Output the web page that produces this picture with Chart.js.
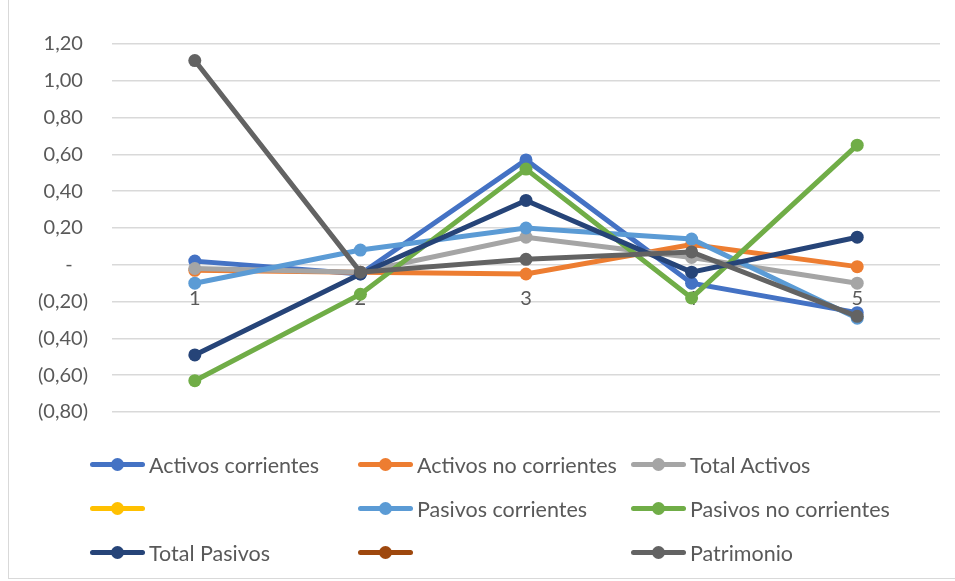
<!DOCTYPE html>
<html>
<head>
<meta charset="utf-8">
<script src="https://cdn.jsdelivr.net/npm/chart.js@4/dist/chart.umd.min.js"></script>
<style>
    html, body { margin: 0; padding: 0; background: #fff; }
    #wrap { position: relative; width: 955px; height: 581px; overflow: hidden; }
    #frame { position: absolute; left: 8px; top: -2px; width: 960px; height: 581px; border: 1px solid #d9d9d9; box-sizing: border-box; }
    canvas { position: absolute; left: 0; top: 0; }
    #legend { position: absolute; left: 0; top: 0; width: 955px; height: 581px; font-family: Lato, sans-serif; font-size: 21.5px; color: #595959; }
    .item { position: absolute; height: 24px; display: flex; align-items: center; white-space: nowrap; }
    .mark { position: relative; width: 55px; height: 24px; margin-right: 4px; }
    .mark .ln { position: absolute; left: 0; right: 0; top: 9px; height: 5px; border-radius: 3px; }
    .mark .dt { position: absolute; left: 21px; top: 5px; width: 13px; height: 13px; border-radius: 50%; }
</style>
</head>
<body>
<div id="wrap">
    <div id="frame"></div>
    <canvas id="ratioChart" width="955" height="581"></canvas>
    <div id="legend"></div>
</div>
<script>
const periods = ['1', '2', '3', '4', '5'];

const seriesNames = [
    'Activos corrientes', 'Activos no corrientes', 'Total Activos',
    '', 'Pasivos corrientes', 'Pasivos no corrientes',
    'Total Pasivos', '', 'Patrimonio'
];

const activosCorrientes = [0.02, -0.05, 0.57, -0.10, -0.26];
const activosNoCorrientes = [-0.03, -0.04, -0.05, 0.11, -0.01];
const totalActivos = [-0.02, -0.04, 0.15, 0.04, -0.10];
const sinNombre1 = [null, null, null, null, null];
const pasivosCorrientes = [-0.10, 0.08, 0.20, 0.14, -0.29];
const pasivosNoCorrientes = [-0.63, -0.16, 0.52, -0.18, 0.65];
const totalPasivos = [-0.49, -0.05, 0.35, -0.04, 0.15];
const sinNombre2 = [null, null, null, null, null];
const patrimonio = [1.11, -0.04, 0.03, 0.07, -0.28];

const seriesValues = [
    activosCorrientes, activosNoCorrientes, totalActivos,
    sinNombre1, pasivosCorrientes, pasivosNoCorrientes,
    totalPasivos, sinNombre2, patrimonio
];

const seriesColors = [
    '#4472C4', '#ED7D31', '#A5A5A5',
    '#FFC000', '#5B9BD5', '#70AD47',
    '#264478', '#9E480E', '#636363'
];

// accounting style: 0,20 / (0,20) / -
function formatTick(v) {
    const r = Math.round(v * 100) / 100;
    if (Math.abs(r) < 1e-9) return '-   ';
    const s = Math.abs(r).toFixed(2).replace('.', ',');
    return r < 0 ? '(' + s + ')' : s + ' ';
}

const datasets = seriesNames.map(function (name, i) {
    return {
        label: name,
        data: seriesValues[i],
        borderColor: seriesColors[i],
        backgroundColor: seriesColors[i],
        borderWidth: 5,
        pointRadius: 6.5,
        pointBorderWidth: 0,
        pointHoverRadius: 6.5,
        tension: 0,
        spanGaps: false,
        order: seriesNames.length - 1 - i
    };
});

const ctx = document.getElementById('ratioChart').getContext('2d');
const chart = new Chart(ctx, {
    type: 'line',
    data: { labels: periods, datasets: datasets },
    options: {
        responsive: false,
        animation: false,
        layout: { padding: { left: 0, right: 15, top: 44, bottom: 169 } },
        plugins: {
            legend: { display: false },
            tooltip: { enabled: false }
        },
        scales: {
            x: {
                position: { y: 0 },
                offset: true,
                grid: { display: false, drawTicks: false },
                border: { display: false },
                ticks: {
                    color: '#595959',
                    font: { family: 'Lato', size: 20 },
                    padding: 22,
                    maxRotation: 0
                }
            },
            y: {
                min: -0.8,
                max: 1.2,
                afterFit: function (scale) { scale.width = 112; },
                grid: { color: '#d9d9d9', lineWidth: 1.5, drawTicks: false },
                border: { display: false },
                ticks: {
                    stepSize: 0.2,
                    color: '#595959',
                    font: { family: 'Lato', size: 20 },
                    padding: 24,
                    callback: formatTick
                }
            }
        }
    }
});

// three-column legend under the plot
const legendEl = document.getElementById('legend');
const colX = [90, 358, 631];
const rowY = [453, 497, 541];
chart.data.datasets.forEach(function (ds, i) {
    const item = document.createElement('div');
    item.className = 'item';
    item.style.left = colX[i % 3] + 'px';
    item.style.top = rowY[Math.floor(i / 3)] + 'px';
    const mark = document.createElement('span');
    mark.className = 'mark';
    mark.innerHTML = '<span class="ln" style="background:' + ds.borderColor + '"></span>' +
        '<span class="dt" style="background:' + ds.borderColor + '"></span>';
    item.appendChild(mark);
    const txt = document.createElement('span');
    txt.textContent = ds.label;
    item.appendChild(txt);
    legendEl.appendChild(item);
});
</script>
</body>
</html>
